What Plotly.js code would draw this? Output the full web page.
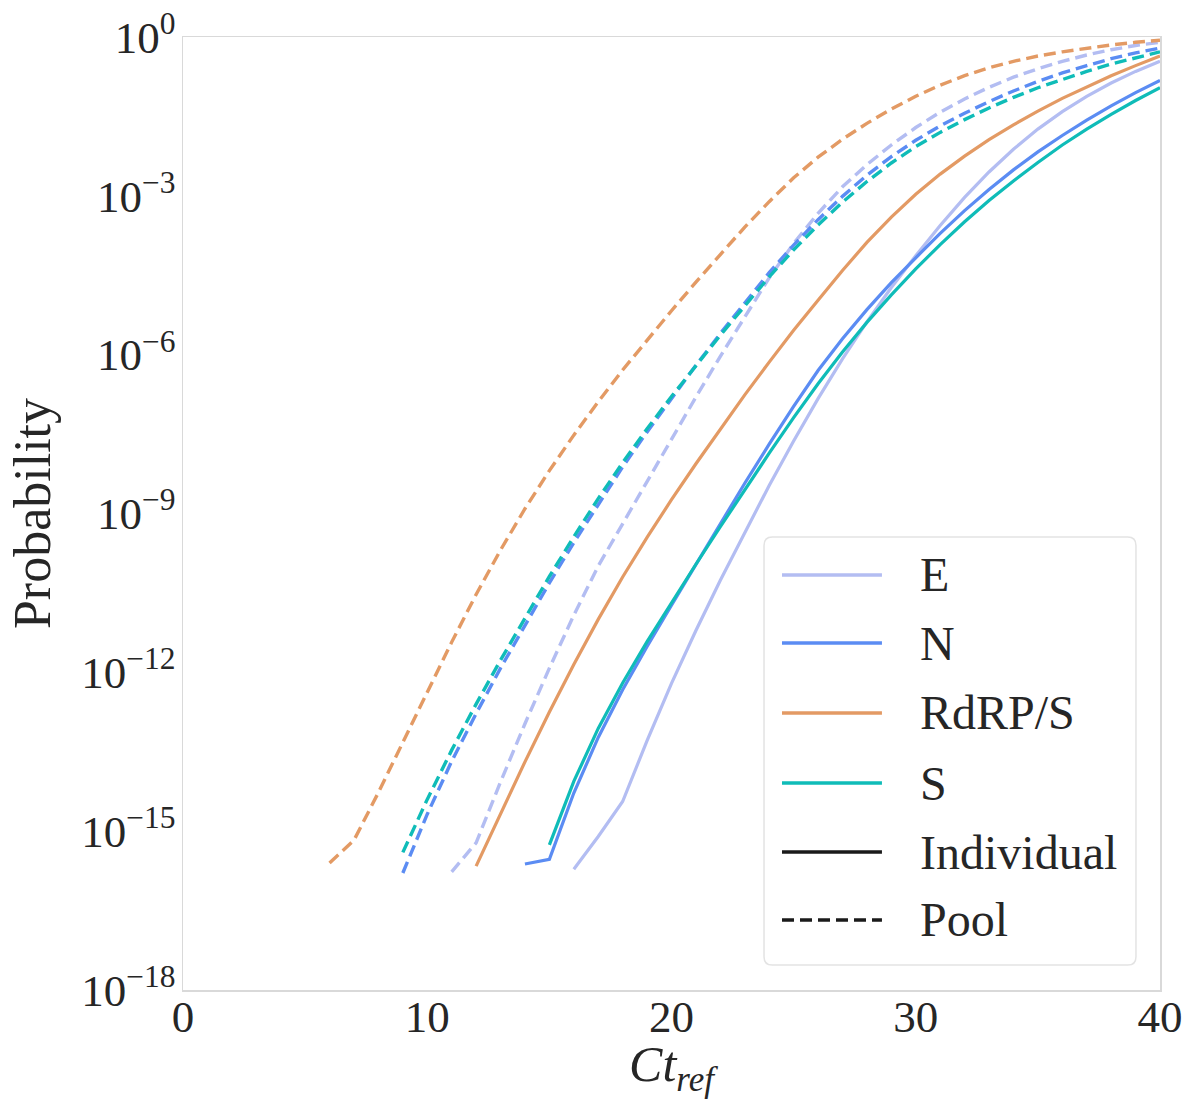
<!DOCTYPE html>
<html>
<head>
<meta charset="utf-8">
<script src="https://cdn.plot.ly/plotly-3.0.1.min.js"></script>
<style>html,body{margin:0;padding:0;background:#fff;}#chart{width:1187px;height:1099px;}</style>
</head>
<body>
<div id="chart"></div>
<script>
// ---- data (Ct_ref values and probabilities) ----
const ctE_ind = [16,17,18,19,20,21,22,23,24,25,26,27,28,29,30,31,32,33,34,35,36,37,38,39,40];
const pE_ind = [1.91e-16,7.94e-16,3.63e-15,5.13e-14,6.17e-13,6.17e-12,5.50e-11,4.47e-10,3.39e-9,2.34e-8,1.48e-7,8.32e-7,4.17e-6,1.86e-5,7.41e-5,2.75e-4,9.33e-4,2.82e-3,7.59e-3,0.0182,0.0389,0.0759,0.135,0.224,0.347];

const ctN_ind = [14,15,16,17,18,19,20,21,22,23,24,25,26,27,28,29,30,31,32,33,34,35,36,37,38,39,40];
const pN_ind = [2.40e-16,2.95e-16,5.25e-15,5.89e-14,4.68e-13,3.09e-12,1.86e-11,1.10e-10,6.46e-10,3.72e-9,2.04e-8,1.05e-7,5.01e-7,2.00e-6,7.08e-6,2.29e-5,6.76e-5,1.95e-4,5.25e-4,1.32e-3,3.09e-3,6.76e-3,0.0138,0.0269,0.0501,0.0891,0.151];

const ctR_ind = [12,13,14,15,16,17,18,19,20,21,22,23,24,25,26,27,28,29,30,31,32,33,34,35,36,37,38,39,40];
const pR_ind = [2.19e-16,2.19e-15,2.04e-14,1.78e-13,1.41e-12,1.0e-11,6.31e-11,3.55e-10,1.82e-9,8.71e-9,3.98e-8,1.74e-7,7.24e-7,2.88e-6,1.07e-5,3.89e-5,1.32e-4,3.98e-4,1.07e-3,2.57e-3,5.62e-3,0.0115,0.0219,0.0398,0.0692,0.115,0.186,0.288,0.437];

const ctS_ind = [15,16,17,18,19,20,21,22,23,24,25,26,27,28,29,30,31,32,33,34,35,36,37,38,39,40];
const pS_ind = [5.50e-16,8.71e-15,8.71e-14,6.31e-13,3.80e-12,2.09e-11,1.10e-10,5.62e-10,2.82e-9,1.38e-8,6.46e-8,2.82e-7,1.12e-6,4.07e-6,1.35e-5,4.17e-5,1.20e-4,3.24e-4,8.13e-4,1.91e-3,4.27e-3,9.12e-3,0.0182,0.0347,0.0631,0.110];

const ctE_pool = [11,12,13,14,15,16,17,18,19,20,21,22,23,24,25,26,27,28,29,30,31,32,33,34,35,36,37,38,39,40];
const pE_pool = [1.70e-16,6.03e-16,8.51e-15,1.07e-13,1.20e-12,1.20e-11,1.02e-10,6.46e-10,4.07e-9,2.57e-8,1.58e-7,9.33e-7,5.25e-6,2.82e-5,1.26e-4,4.68e-4,1.48e-3,3.89e-3,9.12e-3,0.0195,0.038,0.0676,0.112,0.174,0.251,0.347,0.457,0.575,0.692,0.794];

const ctN_pool = [9,10,11,12,13,14,15,16,17,18,19,20,21,22,23,24,25,26,27,28,29,30,31,32,33,34,35,36,37,38,39,40];
const pN_pool = [1.62e-16,2.09e-15,2.09e-14,1.66e-13,1.20e-12,7.94e-12,4.90e-11,2.82e-10,1.51e-9,7.59e-9,3.47e-8,1.51e-7,6.31e-7,2.51e-6,9.55e-6,3.55e-5,1.17e-4,3.55e-4,9.77e-4,2.45e-3,5.50e-3,0.0112,0.0209,0.0363,0.0603,0.0955,0.145,0.209,0.288,0.389,0.501,0.617];

const ctR_pool = [6,7,8,9,10,11,12,13,14,15,16,17,18,19,20,21,22,23,24,25,26,27,28,29,30,31,32,33,34,35,36,37,38,39,40];
const pR_pool = [2.51e-16,6.76e-16,5.37e-15,4.79e-14,4.27e-13,3.72e-12,2.95e-11,2.04e-10,1.23e-9,6.46e-9,3.02e-8,1.29e-7,5.13e-7,1.91e-6,6.76e-6,2.34e-5,7.94e-5,2.57e-4,7.76e-4,2.19e-3,5.37e-3,0.0117,0.0234,0.0437,0.0759,0.123,0.186,0.263,0.347,0.437,0.525,0.617,0.708,0.794,0.871];

const ctS_pool = [9,10,11,12,13,14,15,16,17,18,19,20,21,22,23,24,25,26,27,28,29,30,31,32,33,34,35,36,37,38,39,40];
const pS_pool = [3.98e-16,3.98e-15,3.39e-14,2.51e-13,1.70e-12,1.07e-11,6.46e-11,3.63e-10,1.91e-9,9.12e-9,3.98e-8,1.62e-7,6.31e-7,2.34e-6,8.32e-6,2.95e-5,9.55e-5,2.82e-4,7.59e-4,1.86e-3,4.17e-3,8.51e-3,0.0158,0.0275,0.0457,0.0724,0.110,0.158,0.224,0.309,0.407,0.525];

const genes = ["E", "N", "RdRP/S", "S"];
const geneColors = ["#b3bdf2", "#5b8cf3", "#e39a64", "#0fbcb8"];
const kindLabels = ["Individual", "Pool"];

const yTickVals = [1e-18, 1e-15, 1e-12, 1e-9, 1e-6, 1e-3, 1];
const yTickText = ["10<sup>−18</sup>", "10<sup>−15</sup>", "10<sup>−12</sup>", "10<sup>−9</sup>", "10<sup>−6</sup>", "10<sup>−3</sup>", "10<sup>0</sup>"];
const xTickVals = [0, 10, 20, 30, 40];

// ---- traces ----
const indX = [ctE_ind, ctN_ind, ctR_ind, ctS_ind];
const indY = [pE_ind, pN_ind, pR_ind, pS_ind];
const poolX = [ctE_pool, ctN_pool, ctR_pool, ctS_pool];
const poolY = [pE_pool, pN_pool, pR_pool, pS_pool];
const DASH = "12px,6px";

const traces = [];
for (let i = 0; i < genes.length; i++) {
  traces.push({x: indX[i], y: indY[i], type: "scatter", mode: "lines", name: genes[i] + " " + kindLabels[0],
    showlegend: false, line: {color: geneColors[i], width: 3.2}});
}
for (let i = 0; i < genes.length; i++) {
  traces.push({x: poolX[i], y: poolY[i], type: "scatter", mode: "lines", name: genes[i] + " " + kindLabels[1],
    showlegend: false, line: {color: geneColors[i], width: 3.4, dash: DASH}});
}

// ---- legend drawn in paper coordinates ----
const FONT = "Liberation Serif, DejaVu Serif, serif";
const legX0 = 0.5947, legX1 = 0.9754, legY0 = 0.0262, legY1 = 0.4753;
const rx = 0.0085, ry = 0.0088;
const shapes = [{
  type: "path", xref: "paper", yref: "paper",
  path: `M${legX0+rx},${legY0} L${legX1-rx},${legY0} Q${legX1},${legY0} ${legX1},${legY0+ry} L${legX1},${legY1-ry} Q${legX1},${legY1} ${legX1-rx},${legY1} L${legX0+rx},${legY1} Q${legX0},${legY1} ${legX0},${legY1-ry} L${legX0},${legY0+ry} Q${legX0},${legY0} ${legX0+rx},${legY0} Z`,
  line: {color: "#e3e3e3", width: 1.5}, fillcolor: "rgba(255,255,255,0.85)", layer: "above"
}];
const annotations = [];
const rowY = [0.4355, 0.3641, 0.2907, 0.2172, 0.1448, 0.0735];
const legLabels = genes.concat(kindLabels);
const legColors = geneColors.concat(["#1a1a1a", "#1a1a1a"]);
const legDash = ["solid", "solid", "solid", "solid", "solid", DASH];
for (let k = 0; k < legLabels.length; k++) {
  shapes.push({type: "line", xref: "paper", yref: "paper", x0: 0.6131, x1: 0.7154, y0: rowY[k], y1: rowY[k],
    line: {color: legColors[k], width: 3.4, dash: legDash[k]}, layer: "above"});
  annotations.push({xref: "paper", yref: "paper", x: 0.7523, y: rowY[k], xanchor: "left", yanchor: "middle",
    text: legLabels[k], showarrow: false, font: {family: FONT, size: 48, color: "#262626"}});
}

const layout = {
  width: 1187, height: 1099,
  margin: {l: 183, r: 27, t: 37, b: 109},
  paper_bgcolor: "#ffffff", plot_bgcolor: "#ffffff",
  showlegend: false,
  font: {family: FONT, size: 44, color: "#262626"},
  xaxis: {
    range: [0, 40], tickvals: xTickVals, showgrid: false, zeroline: false,
    showline: true, mirror: true, linecolor: "#d9d9d9", linewidth: 1.5, ticks: "",
    ticklabelstandoff: -14,
    tickfont: {family: FONT, size: 45, color: "#262626"},
    title: {text: "<i>Ct<sub>ref</sub></i>", font: {family: FONT, size: 50, color: "#262626"}}
  },
  yaxis: {
    type: "log", range: [-18, 0], tickvals: yTickVals, ticktext: yTickText,
    showgrid: false, zeroline: false, showline: true, mirror: true, linecolor: "#d9d9d9", linewidth: 1.5, ticks: "",
    ticklabelstandoff: -3,
    tickfont: {family: FONT, size: 45, color: "#262626"},
    title: {text: "Probability", font: {family: FONT, size: 52, color: "#262626"}, standoff: 14}
  },
  shapes: shapes,
  annotations: annotations
};

Plotly.newPlot("chart", traces, layout, {displayModeBar: false, staticPlot: true});
</script>
</body>
</html>
